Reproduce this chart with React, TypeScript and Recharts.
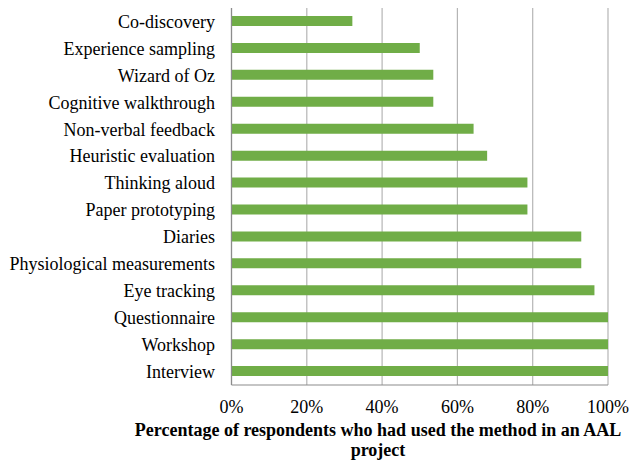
import { BarChart, Bar, XAxis, YAxis, CartesianGrid } from "recharts";

const methods = [
  "Co-discovery",
  "Experience sampling",
  "Wizard of Oz",
  "Cognitive walkthrough",
  "Non-verbal feedback",
  "Heuristic evaluation",
  "Thinking aloud",
  "Paper prototyping",
  "Diaries",
  "Physiological measurements",
  "Eye tracking",
  "Questionnaire",
  "Workshop",
  "Interview",
];

const percentages = [32.1, 50, 53.6, 53.6, 64.3, 67.9, 78.6, 78.6, 92.9, 92.9, 96.4, 100, 100, 100];

const xTicks = [0, 20, 40, 60, 80, 100];

const titleLines = ["Percentage of respondents who had used the method in an AAL", "project"];

const data = methods.map((m, i) => ({ method: m, value: percentages[i] }));

const font = "Liberation Serif";

export default function App() {
  return (
    <div
      style={{
        position: "absolute",
        left: 0,
        top: 0,
        width: 629,
        height: 463,
        background: "#fff",
        fontFamily: font,
      }}
    >
      <BarChart
        width={629}
        height={463}
        data={data}
        layout="vertical"
        margin={{ top: 8, right: 21, left: 0, bottom: 48 }}
        style={{ fontFamily: font }}
      >
        <CartesianGrid horizontal={false} stroke="#b5b5b5" strokeWidth={1.2} />
        <XAxis
          type="number"
          domain={[0, 100]}
          ticks={xTicks}
          tickFormatter={(v) => `${v}%`}
          axisLine={{ stroke: "#8c8c8c", strokeWidth: 1.2 }}
          tickLine={false}
          tickMargin={9}
          height={30}
          interval={0}
          tick={{ fill: "#000", fontSize: 18, style: { fontFamily: font } }}
        />
        <YAxis
          type="category"
          dataKey="method"
          width={231.5}
          axisLine={{ stroke: "#8c8c8c", strokeWidth: 1.2 }}
          tickLine={false}
          tickMargin={10.5}
          interval={0}
          tick={{ fill: "#000", fontSize: 18, style: { fontFamily: font } }}
        />
        <Bar dataKey="value" fill="#70ad47" barSize={10} isAnimationActive={false} />
      </BarChart>
      {titleLines.map((line, i) => (
        <div
          key={line}
          style={{
            position: "absolute",
            left: 128,
            top: 420 + i * 20,
            width: 500,
            textAlign: "center",
            fontFamily: font,
            fontWeight: "bold",
            fontSize: 18,
            lineHeight: "20px",
            color: "#000",
            whiteSpace: "nowrap",
          }}
        >
          {line}
        </div>
      ))}
    </div>
  );
}
